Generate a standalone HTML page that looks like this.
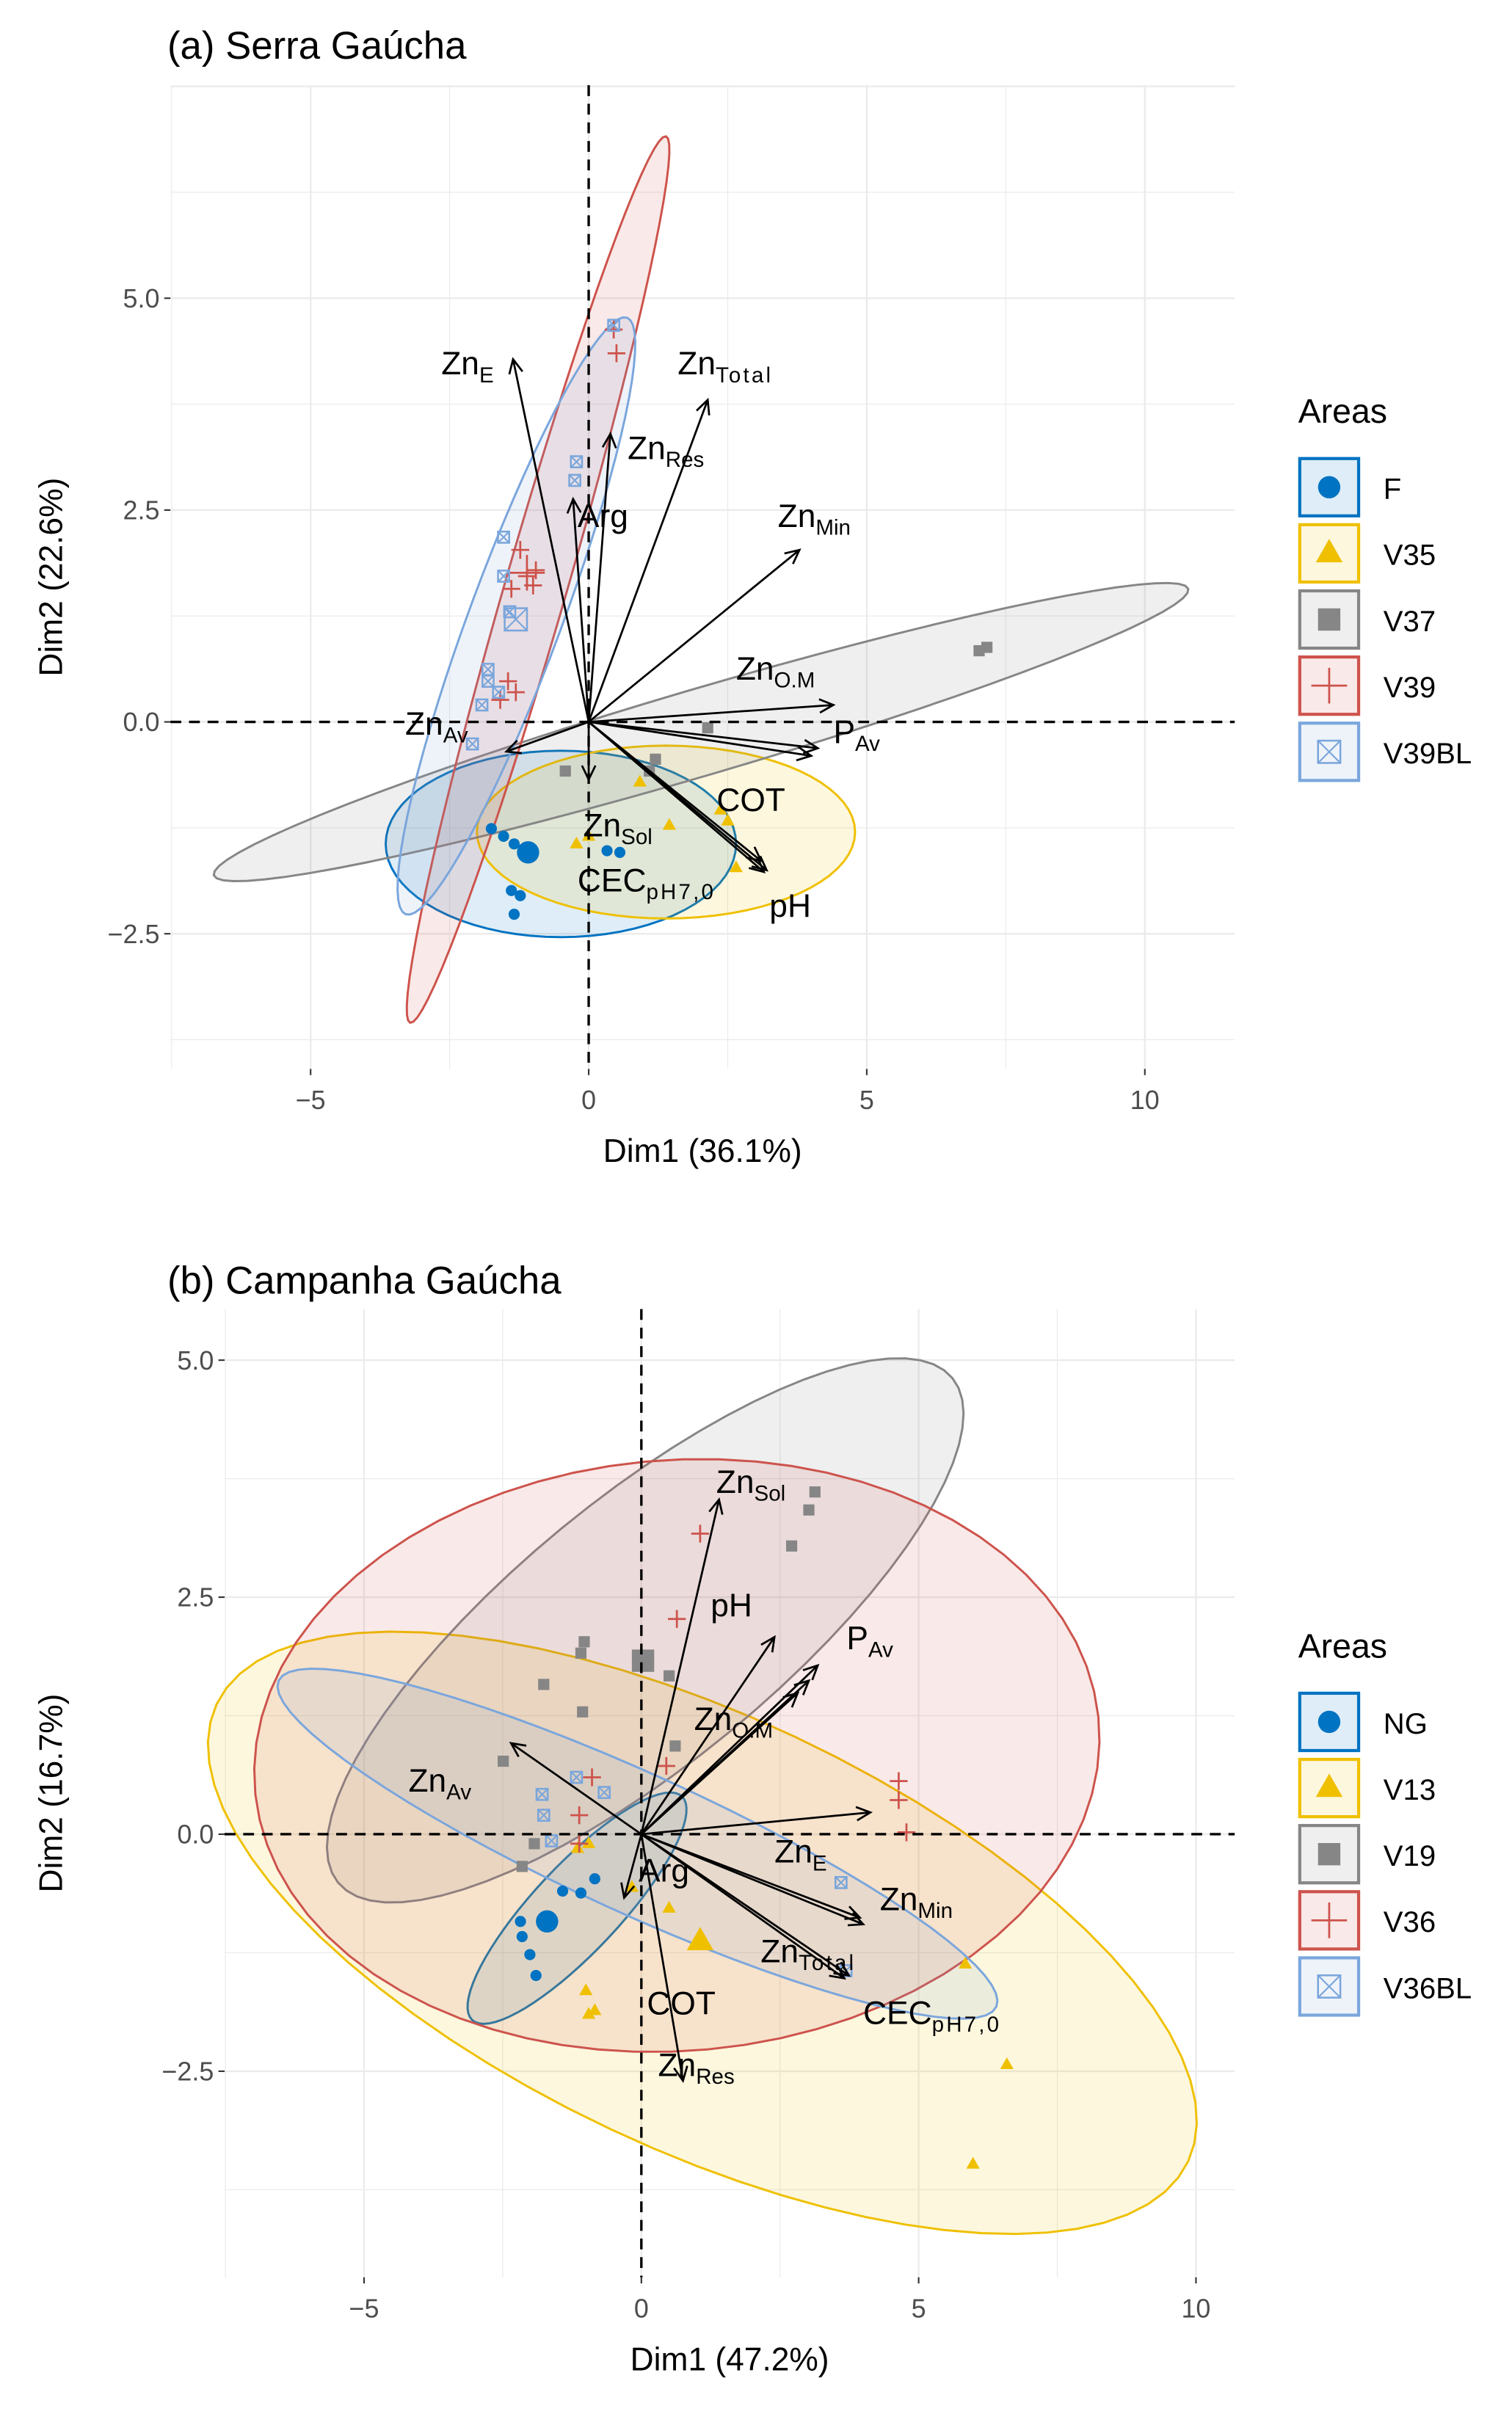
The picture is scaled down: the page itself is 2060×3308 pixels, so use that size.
<!DOCTYPE html>
<html><head><meta charset="utf-8">
<style>
html,body{margin:0;padding:0;background:#fff;}
svg{display:block;font-family:"Liberation Sans",sans-serif;}
</style></head>
<body>
<svg id="fig" width="2060" height="3308" viewBox="0 0 976 1567.3" xmlns="http://www.w3.org/2000/svg"></svg>
<script>
// ---------- Panel A data ----------
const aArrowNames = ["ZnE","ZnTotal","ZnRes","Arg","ZnMin","ZnOM","PAv","PAv2","ZnAv","ZnSol","COT","CEC","pH"];
const aArrowX = [-1.36,2.14,0.39,-0.28,3.79,4.4,4.12,4.0,-1.48,0,3.1,3.15,3.2];
const aArrowY = [4.28,3.80,3.40,2.63,2.03,0.2,-0.31,-0.4,-0.35,-0.68,-1.64,-1.77,-1.75];
const aLabelText = [["Zn","E"],["Zn","Total"],["Zn","Res"],["Arg",""],["Zn","Min"],["Zn","O.M"],["P","Av"],["Zn","Av"],["Zn","Sol"],["COT",""],["CEC","pH7,0"],["pH",""]];
const aLabelX = [-2.65,1.6,0.7,-0.2,3.4,2.65,4.4,-3.3,-0.1,2.3,-0.2,3.25];
const aLabelY = [4.1,4.1,3.1,2.3,2.3,0.5,-0.25,-0.15,-1.35,-1.05,-2.0,-2.3];
const aGroups = ["F","V35","V37","V39","V39BL"];
const aPtX = {
 F:[-1.75,-1.53,-1.34,0.33,0.56,-1.39,-1.23,-1.34],
 V35:[-0.22,0,0.92,1.45,2.37,2.5,2.65],
 V37:[-0.42,1.09,2.14,7.02,7.16,1.2],
 V39:[0.45,0.5,-1.23,-1.11,-1.0,-0.95,-1.39,-1.45,-1.31,-1.59],
 V39BL:[0.45,-0.22,-0.25,-1.53,-1.53,-1.42,-1.81,-1.81,-1.62,-1.92,-2.09]
};
const aPtY = {
 F:[-1.26,-1.35,-1.44,-1.52,-1.54,-1.99,-2.05,-2.27],
 V35:[-1.44,-1.35,-0.71,-1.22,-1.04,-1.17,-1.72],
 V37:[-0.58,-0.58,-0.07,0.84,0.88,-0.44],
 V39:[4.63,4.35,2.03,1.72,1.61,1.79,1.57,0.48,0.35,0.26],
 V39BL:[4.68,3.07,2.85,2.18,1.72,1.3,0.62,0.48,0.35,0.2,-0.26]
};
const aMeanX = {F:-1.09,V35:null,V37:null,V39:-1.11,V39BL:-1.31};
const aMeanY = {F:-1.54,V35:null,V37:null,V39:1.76,V39BL:1.21};
const aEllC = {F:[-0.5,-1.44],V35:[1.39,-1.3],V37:[2.02,-0.12],V39:[-0.91,1.68],V39BL:[-1.3,1.25]};
const aEllA = {F:[3.15,0],V35:[3.4,0],V37:[8.76,1.69],V39:[2.3,5.23],V39BL:[1.99,3.52]};
const aEllB = {F:[0,1.1],V35:[0,1.02],V37:[0.22,-0.49],V39:[0.535,-0.1],V39BL:[0.78,-0.19]};

// ---------- Panel B data ----------
const bArrowNames = ["ZnSol","pH","PAv","PAv2","ZnOM","X1","ZnE","ZnMin","ZnTotal","CEC","Arg","ZnRes","ZnAv"];
const bArrowX = [1.4,2.4,3.18,3.02,2.82,4.13,3.94,4.0,3.66,3.74,-0.31,0.75,-2.35];
const bArrowY = [3.53,2.08,1.78,1.62,1.49,0.23,-0.88,-0.95,-1.52,-1.49,-0.67,-2.6,0.96];
const bLabelText = [["Zn","Sol"],["pH",""],["P","Av"],["Zn","O.M"],["Zn","Av"],["Zn","E"],["Arg",""],["Zn","Min"],["Zn","Total"],["COT",""],["CEC","pH7,0"],["Zn","Res"]];
const bLabelX = [1.35,1.25,3.7,0.95,-4.2,2.4,-0.05,4.3,2.15,0.1,4.0,0.3];
const bLabelY = [3.6,2.3,1.95,1.1,0.45,-0.3,-0.5,-0.8,-1.35,-1.9,-2.0,-2.55];
const bGroups = ["NG","V13","V19","V36","V36BL"];
const bPtX = {
 NG:[-2.15,-2.01,-1.9,-1.42,-1.09,-0.84,-2.18],
 V13:[0.5,-1.0,-0.95,-0.84,-0.95,-1.15,-0.17,5.84,6.59,5.98],
 V19:[-2.49,-1.76,-1.06,-1.09,-1.03,2.71,3.02,3.13,-2.15,-1.93,0.5,0.61],
 V36:[1.06,0.64,-0.89,-1.12,4.64,4.64,4.78,0.45,-1.12],
 V36BL:[-1.79,-1.76,-1.62,3.6,3.69,-0.67,-1.17]
};
const bPtY = {
 NG:[-1.08,-1.27,-1.49,-0.6,-0.62,-0.47,-0.92],
 V13:[-0.78,-1.65,-1.9,-1.86,-0.1,-0.15,-0.56,-1.37,-2.43,-3.48],
 V19:[0.77,1.58,1.29,1.91,2.03,3.04,3.42,3.61,-0.34,-0.1,1.67,0.93],
 V36:[3.17,2.27,0.6,-0.1,0.56,0.36,0.02,0.72,0.2],
 V36BL:[0.42,0.2,-0.07,-0.51,-1.44,0.44,0.6]
};
const bMeanX = {NG:-1.7,V13:1.06,V19:0.03,V36:null,V36BL:null};
const bMeanY = {NG:-0.92,V13:-1.13,V19:1.83,V36:null,V36BL:null};
const bEllC = {NG:[-1.16,-0.78],V13:[1.1,-1.04],V19:[0.07,2.15],V36:[0.64,0.83],V36BL:[-0.07,-0.1]};
const bEllA = {NG:[1.89,1.18],V13:[8.76,-2.41],V19:[5.54,2.66],V36:[7.6,0.41],V36BL:[6.47,-1.72]};
const bEllB = {NG:[0.57,-0.31],V13:[-1.66,-2.07],V19:[1.5,-1.08],V36:[0.56,-3.1],V36BL:[-0.52,-0.67]};

const xTicks = [-5,0,5,10];
const aYTicks = [-2.5,0,2.5,5];
const bYTicks = [-2.5,0,2.5,5];
const aYTickLabels = ["\u22122.5","0.0","2.5","5.0"];
const bYTickLabels = ["\u22122.5","0.0","2.5","5.0"];
const xTickLabels = ["\u22125","0","5","10"];

const COLORS = ["#0073C2","#EFC000","#868686","#CD534C","#7AA6DC"];
const SHAPES = ["circle","triangle","square","cross","boxx"];
const NS = "http://www.w3.org/2000/svg";
const svg = document.getElementById("fig");
function el(tag, attrs, parent){
  const e = document.createElementNS(NS, tag);
  for (const k in attrs) e.setAttribute(k, attrs[k]);
  (parent||svg).appendChild(e);
  return e;
}

function drawPanel(cfg){
  const g = el("g",{});
  
  
  const sx = v => cfg.x0 + v*cfg.kx;
  const sy = v => cfg.y0 - v*cfg.ky;
  for (let v=-7.5; v<=10.01; v+=2.5){
    const major = Math.abs(v%5)<1e-6;
    const l = el("line",{x1:sx(v),x2:sx(v),y1:cfg.top,y2:cfg.bottom,stroke:"#ebebeb","stroke-width":major?1.1:0.6},g);
    
    
  }
  for (let v=cfg.yMinGrid; v<=cfg.yMaxGrid+0.01; v+=1.25){
    const major = Math.abs((v/2.5)-Math.round(v/2.5))<1e-6;
    const l = el("line",{x1:cfg.left,x2:cfg.right,y1:sy(v),y2:sy(v),stroke:"#ebebeb","stroke-width":major?1.1:0.6},g);
    
    
  }
  cfg.groups.forEach((grp,i)=>{
    const c=cfg.ellC[grp], a=cfg.ellA[grp], b=cfg.ellB[grp];
    let d="";
    for(let k=0;k<=72;k++){
      const t=k/72*2*Math.PI;
      const x=c[0]+a[0]*Math.cos(t)+b[0]*Math.sin(t);
      const y=c[1]+a[1]*Math.cos(t)+b[1]*Math.sin(t);
      d+=(k?"L":"M")+sx(x).toFixed(2)+","+sy(y).toFixed(2);
    }
    const p=el("path",{d:d+"Z",fill:COLORS[i],"fill-opacity":0.13,stroke:COLORS[i],"stroke-width":1.4},g);
    
    
  });
  cfg.groups.forEach((grp,i)=>{
    const xs=cfg.ptX[grp], ys=cfg.ptY[grp];
    for(let k=0;k<xs.length;k++){
      const m=drawMarker(g,SHAPES[i],COLORS[i],sx(xs[k]),sy(ys[k]),1);
      
      
    }
    if(cfg.meanX[grp]!==null){
      const mm=drawMarker(g,SHAPES[i],COLORS[i],sx(cfg.meanX[grp]),sy(cfg.meanY[grp]),2);
      
      
    }
  });
  let z=el("line",{x1:cfg.left,x2:cfg.right,y1:sy(0),y2:sy(0),stroke:"#000","stroke-width":1.6,"stroke-dasharray":"7,5"},g);
   
  z=el("line",{x1:sx(0),x2:sx(0),y1:cfg.top,y2:cfg.bottom,stroke:"#000","stroke-width":1.6,"stroke-dasharray":"7,5"},g);
   
  for(let k=0;k<cfg.arrX.length;k++){
    const x1=sx(0),y1=sy(0),x2=sx(cfg.arrX[k]),y2=sy(cfg.arrY[k]);
    const ang=Math.atan2(y2-y1,x2-x1), h=10;
    const d=`M${x1},${y1}L${x2},${y2}M${x2-h*Math.cos(ang-0.45)},${y2-h*Math.sin(ang-0.45)}L${x2},${y2}L${x2-h*Math.cos(ang+0.45)},${y2-h*Math.sin(ang+0.45)}`;
    const p=el("path",{d:d,fill:"none",stroke:"#000","stroke-width":1.3},g);
    
    
  }
  for(let k=0;k<cfg.labText.length;k++){
    const t=el("text",{x:sx(cfg.labX[k]),y:sy(cfg.labY[k]),"font-size":21,fill:"#000"},g);
    
    
    t.textContent=cfg.labText[k][0];
    if(cfg.labText[k][1]){
      const s=el("tspan",{dy:5,"font-size":14,"letter-spacing":cfg.labText[k][1].length>3?1.5:0},t);
      s.textContent=cfg.labText[k][1];
    }
  }
  cfg.xTicks.forEach((v,k)=>{
    el("line",{x1:sx(v),x2:sx(v),y1:cfg.bottom,y2:cfg.bottom+4,stroke:"#333","stroke-width":1},g);
    const t=el("text",{x:sx(v),y:cfg.bottom+26,"text-anchor":"middle","font-size":17,fill:"#4d4d4d"},g);
     
    t.textContent=cfg.xTickLabels[k];
  });
  cfg.yTicks.forEach((v,k)=>{
    el("line",{x1:cfg.left-4,x2:cfg.left,y1:sy(v),y2:sy(v),stroke:"#333","stroke-width":1},g);
    const t=el("text",{x:cfg.left-7,y:sy(v)+6,"text-anchor":"end","font-size":17,fill:"#4d4d4d"},g);
     
    t.textContent=cfg.yTickLabels[k];
  });
  let t=el("text",{x:(cfg.left+cfg.right)/2,y:cfg.bottom+60,"text-anchor":"middle","font-size":21,fill:"#000"},g);
   
  t.textContent=cfg.xTitle;
  t=el("text",{x:0,y:0,"text-anchor":"middle","font-size":21,fill:"#000",transform:`translate(40,${(cfg.top+cfg.bottom)/2}) rotate(-90)`},g);
   
  t.textContent=cfg.yTitle;
  t=el("text",{x:108,y:cfg.titleY,"font-size":25,fill:"#000"},g);
   
  t.textContent=cfg.title;
  const lg=el("g",{},g);
   
  t=el("text",{x:838,y:cfg.legY,"font-size":22,fill:"#000"},lg);
   
  t.textContent="Areas";
  cfg.groups.forEach((grp,i)=>{
    const yy=cfg.legY+23+i*42.7;
    const e=el("g",{},lg);
    
    
    el("rect",{x:839,y:yy,width:38,height:37,fill:COLORS[i],"fill-opacity":0.13,stroke:COLORS[i],"stroke-width":2},e);
    drawMarker(e,SHAPES[i],COLORS[i],858,yy+18.5,2);
    const tt=el("text",{x:893,y:yy+26,"font-size":19,fill:"#000"},e);
    tt.textContent=grp;
  });
}

function drawMarker(g,shape,col,x,y,s){
  const m=el("g",{},g);
  const r=3.6*s;
  if(shape==="circle") el("circle",{cx:x,cy:y,r:r,fill:col},m);
  else if(shape==="triangle") el("polygon",{points:`${x},${y-r*1.3} ${x-r*1.2},${y+r*0.8} ${x+r*1.2},${y+r*0.8}`,fill:col},m);
  else if(shape==="square") el("rect",{x:x-r,y:y-r,width:2*r,height:2*r,fill:col},m);
  else if(shape==="cross"){ const q=r*1.6; el("path",{d:`M${x-q},${y}L${x+q},${y}M${x},${y-q}L${x},${y+q}`,stroke:col,"stroke-width":1.3,fill:"none"},m);}
  else { el("rect",{x:x-r,y:y-r,width:2*r,height:2*r,fill:"none",stroke:col,"stroke-width":1.2},m);
         el("path",{d:`M${x-r},${y-r}L${x+r},${y+r}M${x-r},${y+r}L${x+r},${y-r}`,stroke:col,"stroke-width":1},m);}
  return m;
}

drawPanel({id:"panel-a-serra-gaucha",x0:380,kx:35.9,y0:466,ky:54.7,left:110,right:797,top:55,bottom:690,
  yMinGrid:-3.75,yMaxGrid:7.5,groups:aGroups,ellC:aEllC,ellA:aEllA,ellB:aEllB,ptX:aPtX,ptY:aPtY,meanX:aMeanX,meanY:aMeanY,
  arrNames:aArrowNames,arrX:aArrowX,arrY:aArrowY,labText:aLabelText,labX:aLabelX,labY:aLabelY,
  xTicks:xTicks,xTickLabels:xTickLabels,yTicks:aYTicks,yTickLabels:aYTickLabels,
  xTitle:"Dim1 (36.1%)",yTitle:"Dim2 (22.6%)",title:"(a) Serra Ga\u00facha",titleY:38,legY:273});
drawPanel({id:"panel-b-campanha-gaucha",x0:414,kx:35.8,y0:1184,ky:61.2,left:145,right:797,top:845,bottom:1470,
  yMinGrid:-3.75,yMaxGrid:5,groups:bGroups,ellC:bEllC,ellA:bEllA,ellB:bEllB,ptX:bPtX,ptY:bPtY,meanX:bMeanX,meanY:bMeanY,
  arrNames:bArrowNames,arrX:bArrowX,arrY:bArrowY,labText:bLabelText,labX:bLabelX,labY:bLabelY,
  xTicks:xTicks,xTickLabels:xTickLabels,yTicks:bYTicks,yTickLabels:bYTickLabels,
  xTitle:"Dim1 (47.2%)",yTitle:"Dim2 (16.7%)",title:"(b) Campanha Ga\u00facha",titleY:835,legY:1070});
</script>
</body></html>
